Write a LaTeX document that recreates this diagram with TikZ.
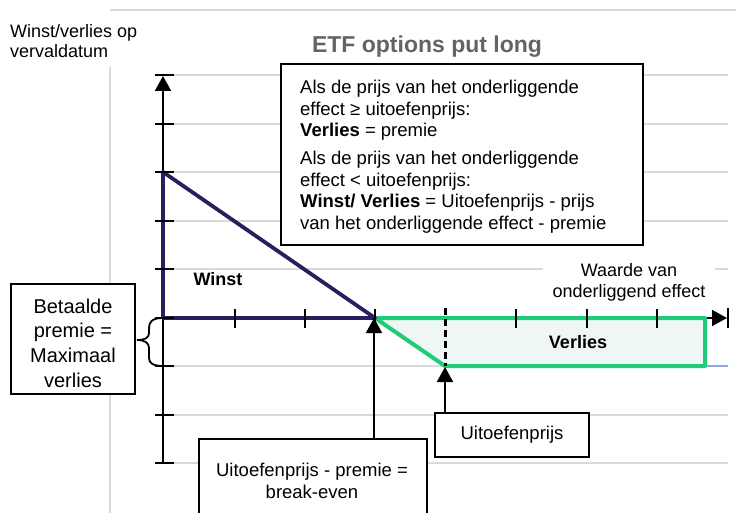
\documentclass[tikz,border=0pt]{standalone}
\usepackage{fontspec}
\setmainfont{Liberation Sans}
\usetikzlibrary{arrows.meta}
\definecolor{navy}{RGB}{38,33,92}
\definecolor{lgreen}{RGB}{30,204,122}
\definecolor{gfill}{RGB}{238,247,243}
\definecolor{gridgray}{RGB}{217,217,217}
\definecolor{lblue}{RGB}{142,170,219}
\definecolor{titlegray}{RGB}{100,100,100}
\begin{document}
\begin{tikzpicture}[x=1pt,y=-1pt,
  gridline/.style={gridgray, line width=1.5pt},
  axis/.style={black, line width=2pt},
  infobox/.style={draw=black, line width=1.8pt, fill=white},
  txt/.style={font=\fontsize{18.5}{21.5}\selectfont},
  boldtxt/.style={font=\fontsize{18}{21.5}\selectfont\bfseries},
  tip/.style={-{Triangle[width=16pt,length=15pt]}},
]
\useasboundingbox (0,0) rectangle (736,513);
% frame lines
\draw[gridline] (110,10) -- (736,10);
\draw[gridline] (110,67) -- (110,513);
% grid lines
\foreach \y in {75,124,172,221,269,415,463} \draw[gridline] (155,\y) -- (728,\y);
\draw[gridline] (155,366) -- (705,366);
\draw[lblue, line width=1.5pt] (705,366) -- (728,366);

% title and axis labels
\node[font=\fontsize{23}{27}\selectfont\bfseries, text=titlegray, anchor=base] (title) at (427,53) {ETF options put long};
\node[font=\fontsize{18}{20}\selectfont, align=left, anchor=north west, inner sep=0] (ylabel) at (10,24) {Winst/verlies op\\vervaldatum};
\node[font=\fontsize{18}{21}\selectfont, align=center, fill=white, inner xsep=10pt, inner ysep=2pt] (xlabel) at (629,282) {Waarde van\\onderliggend effect};

% info box
\node[infobox, minimum width=362pt, minimum height=181pt] (topbox) at (462,154.5) {};
\node[txt, align=left, anchor=north west, inner sep=0] (toptext) at (300,80)
 {Als de prijs van het onderliggende\\
  effect ≥ uitoefenprijs:\\
  \textbf{Verlies} = premie\\[6.5pt]
  Als de prijs van het onderliggende\\
  effect < uitoefenprijs:\\
  \textbf{Winst/ Verlies} = Uitoefenprijs - prijs\\
  van het onderliggende effect - premie};

% axes
\draw[axis, tip] (163,463) -- (163,76);
\draw[axis, tip] (163,318) -- (727,318);
\draw[axis] (728,308) -- (728,328);

% loss area
\draw[lgreen, fill=gfill, line width=4pt, line join=round] (375,318) -- (445,366) -- (705,366) -- (705,318) -- cycle;
% profit triangle
\draw[navy, line width=3.8pt, line join=round] (163,318) -- (163,172) -- (375,318) -- cycle;

% ticks
\foreach \y in {75,124,172,221,269,318,366,415,463} \draw[axis] (155,\y) -- (174,\y);
\foreach \x in {235,305,375,516,587,657} \draw[axis] (\x,309) -- (\x,328);
\draw[black, line width=3pt, dash pattern=on 7pt off 4pt] (445,308) -- (445,366);

% labels in areas
\node[boldtxt] (winst) at (218,279) {Winst};
\node[boldtxt] (verlies) at (578,342) {Verlies};

% key points
\coordinate (be) at (374,318);
\coordinate (strike) at (445,367);

% left box with brace
\node[infobox, minimum width=124pt, minimum height=110pt] (lbox) at (73,339) {};
\node[font=\fontsize{20}{24.7}\selectfont, align=center, anchor=north, inner sep=0] (ltext) at (73,298.5) {Betaalde\\premie =\\Maximaal\\verlies};
\draw[black, line width=1.8pt] (163,318) .. controls (152,318) and (149,322) .. (149,328) -- (149,333) .. controls (149,338) and (145,340) .. (137,340) .. controls (145,340) and (149,343) .. (149,348) -- (149,358) .. controls (149,363) and (153,366) .. (163,366);

% break-even box
\node[infobox, minimum width=228pt, minimum height=92pt, anchor=north west] (bebox) at (198,438) {};
\node[txt, align=center, anchor=north, inner sep=0] (betext) at (312,463) {Uitoefenprijs - premie =\\break-even};
\draw[axis, tip] (bebox.north -| be) -- (be);

% strike box
\node[infobox, txt, minimum width=154pt, minimum height=44pt] (ubox) at (512,435) {Uitoefenprijs};
\draw[axis, tip] (ubox.north -| strike) -- (strike);
\end{tikzpicture}
\end{document}
